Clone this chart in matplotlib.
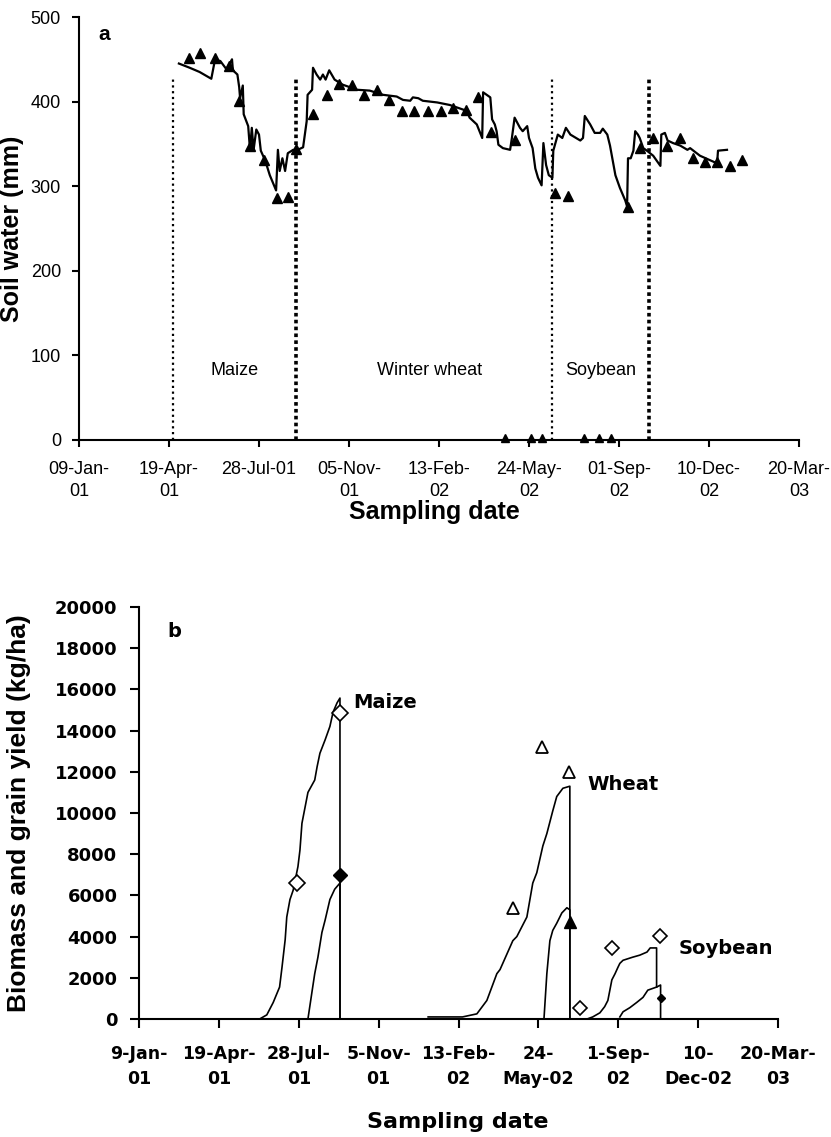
import matplotlib
matplotlib.use("Agg")
import matplotlib.pyplot as plt

# ---------------- data: panel a (days since 09-Jan-2001, soil water mm) ----------------
sim_points = [(111,445),(123,440),(134,435),(147,427),(151,449),(157,448),(164,438),(170,450),(171,437),
              (176,432),(178,417),(179,404),(182,419),(183,385),(188,371),(190,343),(192,369),(194,343),
              (197,367),(200,361),(202,342),(207,330),(212,313),(219,295),(221,343),(223,318),(226,333),
              (229,318),(232,339),(238,343),(243,343),(249,346),(253,377),(254,408),(259,414),(260,440),
              (264,432),(268,426),(271,432),(274,426),(278,437),(284,426),(293,420),(309,414),(323,413),
              (338,408),(353,406),(360,402),(368,401),(371,405),(377,404),(382,401),(398,399),(412,396),
              (431,389),(434,381),(442,373),(448,357),(449,411),(453,408),(457,405),(459,379),(462,373),
              (464,365),(466,349),(471,345),(479,343),(481,357),(484,381),(487,375),(490,369),(493,365),
              (498,371),(500,357),(504,345),(507,321),(510,310),(514,301),(516,351),(519,325),(522,313),
              (526,310),(527,342),(532,361),(537,357),(541,369),(546,361),(557,354),(560,357),(562,383),
              (568,373),(573,363),(579,363),(582,368),(587,361),(590,348),(596,313),(601,298),(607,283),
              (609,276),(610,333),(613,333),(616,342),(618,365),(621,361),(623,357),(627,345),(631,342),
              (638,336),(646,324),(647,361),(651,363),(654,354),(660,351),(668,348),(676,343),(679,345),
              (690,336),(709,327),(710,342),(720,343)]
obs_points = [(122,452),(134,458),(151,451),(167,442),(178,401),(190,348),(206,331),(220,286),(232,287),
              (241,344),(260,385),(276,408),(289,421),(303,420),(317,408),(331,414),(344,402),(359,389),
              (372,389),(388,389),(402,389),(416,392),(430,390),(443,406),(458,364),(484,355),(529,292),
              (543,289),(610,276),(623,345),(638,357),(653,348),(668,357),(682,333),(696,329),(709,329),
              (723,324),(737,331)]
obs_zero_days = [473, 502, 514, 561, 578, 591]
obs_zero_val = [2, 2, 2, 2, 2, 2]
season_days = [104, 241, 526, 633]
season_top = 428
season_names = ["Maize", "Winter wheat", "Soybean"]
season_label_days = [173, 389, 580]

tick_days = [0, 100, 200, 300, 400, 500, 600, 700, 800]
top_xlabels = ["09-Jan-\n01", "19-Apr-\n01", "28-Jul-01", "05-Nov-\n01", "13-Feb-\n02",
               "24-May-\n02", "01-Sep-\n02", "10-Dec-\n02", "20-Mar-\n03"]
bot_xlabels = ["9-Jan-\n01", "19-Apr-\n01", "28-Jul-\n01", "5-Nov-\n01", "13-Feb-\n02",
               "24-\nMay-02", "1-Sep-\n02", "10-\nDec-02", "20-Mar-\n03"]

# ---------------- data: panel b (kg/ha) ----------------
maize_bio = [(151,0),(160,200),(168,800),(176,1550),(179,2500),(183,3850),(185,4950),(189,5800),
             (193,6250),(199,7400),(201.5,8200),(204,9500),(206.5,10000),(211.5,11000),(220,11600),
             (223,12250),(226.5,12900),(233,13550),(239,14200),(243,14900),(248,15350),(251.6,15580),
             (251.6,0)]
maize_grain = [(211.5,0),(216.5,1300),(220,2200),(224,3000),(229,4200),(233,4800),(239,5800),
               (245,6300),(251.6,6600),(251.6,0)]
wheat_bio = [(362,100),(405,100),(423,250),(435.5,900),(448,2200),(452,2400),(468,3800),(473,4000),
             (485.6,4950),(493,6600),(498,7100),(505.6,8400),(510.6,9000),(518,10100),(523,10800),
             (530.7,11200),(539.4,11300),(539.4,0)]
wheat_grain = [(507,0),(510.6,2200),(514.4,3800),(518,4300),(523,4650),(529.4,5150),(535.7,5400),
               (539.4,5300),(539.4,0)]
soy_bio = [(561,0),(568,100),(577,300),(583,600),(587,900),(592,1900),(596,2200),(599.5,2500),
           (602,2700),(606,2850),(618,3000),(627,3100),(636,3250),(640,3450),(648,3450),(648,1550)]
soy_grain = [(602,100),(606,350),(614.5,550),(623,800),(631,1050),(637,1400),(648,1550),(653,1650),
             (653,0)]

maize_obs_bio = [(197.7,6600),(251.6,14850)]
maize_obs_grain = [(251.6,7000)]
wheat_obs_bio = [(468,5400),(504.4,13200),(538.2,12000)]
wheat_obs_grain = [(539.4,4700)]
soy_obs_bio = [(551.9,550),(592,3450),(652,4050)]
soy_obs_grain = [(653.3,1000)]


def xy(pts):
    return [p[0] for p in pts], [p[1] for p in pts]


fig = plt.figure(figsize=(8.31, 11.37), dpi=100)

# ================= panel a =================
REG = "Liberation Sans"
ax1 = fig.add_axes([79/831, 1-440/1137, 720/831, 423/1137])
x, y = xy(sim_points)
ax1.plot(x, y, color="black", lw=1.6)
x, y = xy(obs_points)
ax1.plot(x, y, ls="none", marker="^", ms=7, color="black")
ax1.plot(obs_zero_days, obs_zero_val, ls="none", marker="^", ms=6, color="black", clip_on=False)
for i, d in enumerate(season_days):
    if i % 2 == 0:
        ax1.plot([d, d], [0, season_top], color="black", lw=1.6, ls=(0, (1, 1.6)))
    else:
        ax1.plot([d, d], [0, season_top], color="black", lw=2.6, ls=(0, (1, 0.9)))
for name, d in zip(season_names, season_label_days):
    ax1.text(d, 82, name, ha="center", va="center", fontsize=13, family=REG)
ax1.text(21, 479, "a", ha="left", va="center", fontsize=15, fontweight="bold", family=REG)

ax1.set_xlim(0, 800)
ax1.set_ylim(0, 500)
ax1.set_xticks(tick_days)
ax1.set_xticklabels(top_xlabels, family=REG, fontsize=13, linespacing=1.4)
ax1.set_yticks([0, 100, 200, 300, 400, 500])
ax1.set_yticklabels(["0", "100", "200", "300", "400", "500"], family=REG, fontsize=13)
ax1.tick_params(direction="out", length=5, width=1.5, pad=8)
ax1.tick_params(axis="x", pad=10)
for s in ["top", "right"]:
    ax1.spines[s].set_visible(False)
for s in ["left", "bottom"]:
    ax1.spines[s].set_linewidth(1.5)
ax1.set_ylabel("Soil water (mm)", fontsize=18, fontweight="bold", family=REG)
ax1.yaxis.set_label_coords(-0.076, 0.5)
ax1.set_xlabel("Sampling date", fontsize=18, fontweight="bold", family=REG)
ax1.xaxis.label.set_va("center")
ax1.xaxis.set_label_coords(0.494, -0.17)

# ================= panel b =================
BOLD = "DejaVu Sans"
ax2 = fig.add_axes([139/831, 1-1019/1137, 639/831, 412/1137])
for pts in [maize_bio, maize_grain, wheat_bio, wheat_grain, soy_bio, soy_grain]:
    x, y = xy(pts)
    ax2.plot(x, y, color="black", lw=1.2)

x, y = xy(maize_obs_bio)
ax2.plot(x, y, ls="none", marker="D", ms=8, mfc="white", mec="black", mew=1.2)
x, y = xy(maize_obs_grain)
ax2.plot(x, y, ls="none", marker="D", ms=7, color="black")
x, y = xy(wheat_obs_bio)
ax2.plot(x, y, ls="none", marker="^", ms=9, mfc="white", mec="black", mew=1.3)
x, y = xy(wheat_obs_grain)
ax2.plot(x, y, ls="none", marker="^", ms=8, color="black")
x, y = xy(soy_obs_bio)
ax2.plot(x, y, ls="none", marker="D", ms=7, mfc="white", mec="black", mew=1.2)
x, y = xy(soy_obs_grain)
ax2.plot(x, y, ls="none", marker="D", ms=4.5, color="black")

ax2.text(268, 15340, "Maize", ha="left", va="center", fontsize=14, fontweight="bold", family=BOLD)
ax2.text(561, 11400, "Wheat", ha="left", va="center", fontsize=14, fontweight="bold", family=BOLD)
ax2.text(675, 3400, "Soybean", ha="left", va="center", fontsize=14, fontweight="bold", family=BOLD)
ax2.text(35, 18800, "b", ha="left", va="center", fontsize=14, fontweight="bold", family=BOLD)

ax2.set_xlim(0, 800)
ax2.set_ylim(0, 20000)
ax2.set_xticks(tick_days)
ax2.set_xticklabels(bot_xlabels, family=BOLD, fontweight="bold", fontsize=12.5, linespacing=1.55)
yt = list(range(0, 20001, 2000))
ax2.set_yticks(yt)
ax2.set_yticklabels([str(v) for v in yt], family=BOLD, fontweight="bold", fontsize=13)
ax2.tick_params(direction="out", length=6.5, width=1.5)
ax2.tick_params(axis="x", pad=12)
ax2.tick_params(axis="y", pad=9)
for s in ["top", "right"]:
    ax2.spines[s].set_visible(False)
for s in ["left", "bottom"]:
    ax2.spines[s].set_linewidth(1.5)
ax2.set_ylabel("Biomass and grain yield (kg/ha)", fontsize=19, fontweight="bold", family=REG)
ax2.yaxis.set_label_coords(-0.169, 0.5)
ax2.set_xlabel("Sampling date", fontsize=16, fontweight="bold", family=BOLD)
ax2.xaxis.label.set_va("center")
ax2.xaxis.set_label_coords(0.499, -0.25)

fig.savefig("out.png", dpi=100)
